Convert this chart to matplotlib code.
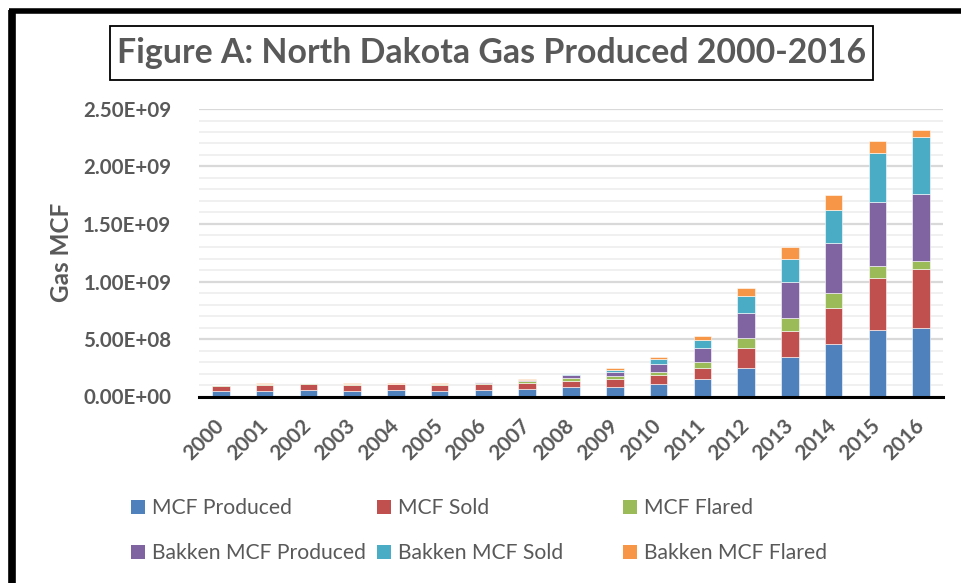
import numpy as np
import matplotlib
matplotlib.use("Agg")
from matplotlib import pyplot as plt
from matplotlib.patches import Rectangle, Patch
from matplotlib.ticker import MultipleLocator, FuncFormatter

W, H = 962, 583
FONT = "Lato"
GRAY = "#595959"

years = [str(y) for y in range(2000, 2017)]

# values in MCF
mcf_produced = [46e6, 49e6, 58e6, 49e6, 55e6, 49e6, 55e6, 64e6, 81e6, 84e6, 110e6, 148e6, 252e6, 344e6, 457e6, 579e6, 599e6]
mcf_sold = [49e6, 52e6, 55e6, 52e6, 52e6, 49e6, 52e6, 52e6, 52e6, 66e6, 78e6, 101e6, 167e6, 229e6, 315e6, 448e6, 512e6]
mcf_flared = [6e6, 9e6, 3e6, 9e6, 4e6, 12e6, 12e6, 17e6, 32e6, 24e6, 29e6, 55e6, 87e6, 110e6, 128e6, 110e6, 69e6]
bakken_produced = [2e6, 2e6, 1e6, 2e6, 1e6, 2e6, 3e6, 9e6, 20e6, 37e6, 64e6, 115e6, 220e6, 312e6, 431e6, 550e6, 579e6]
bakken_sold = [1e6, 1e6, 0.5e6, 1e6, 1e6, 1e6, 2e6, 4e6, 9e6, 20e6, 46e6, 70e6, 148e6, 205e6, 295e6, 433e6, 500e6]
bakken_flared = [0.3e6, 0.3e6, 0.2e6, 0.3e6, 0.3e6, 0.3e6, 0.5e6, 2e6, 6e6, 15e6, 20e6, 40e6, 72e6, 100e6, 124e6, 99e6, 58e6]

series_names = ["MCF Produced", "MCF Sold", "MCF Flared",
                "Bakken MCF Produced", "Bakken MCF Sold", "Bakken MCF Flared"]
series_colors = ["#4F81BD", "#C0504D", "#9BBB59", "#8064A2", "#4BACC6", "#F79646"]
series = [mcf_produced, mcf_sold, mcf_flared, bakken_produced, bakken_sold, bakken_flared]


def fx(px):
    return px / W


def fy(py):
    return 1 - py / H


fig = plt.figure(figsize=(W / 100, H / 100), dpi=100)
fig.patch.set_facecolor("white")

ax = fig.add_axes([fx(199), fy(396.5), fx(943) - fx(199), fy(109) - fy(396.5)])

x = np.arange(len(years))
bottom = np.zeros(len(years))
for name, vals, col in zip(series_names, series, series_colors):
    ax.bar(x, vals, 0.4, bottom=bottom, color=col, edgecolor="white",
           linewidth=0.4, label=name, zorder=3)
    bottom += np.array(vals)

ax.set_xlim(-0.5, len(years) - 0.5)
ax.set_ylim(0, 2.5e9)
ax.yaxis.set_major_locator(MultipleLocator(5e8))
ax.yaxis.set_minor_locator(MultipleLocator(1e8))
ax.yaxis.set_major_formatter(FuncFormatter(lambda v, p: "%.2E" % v))
ax.grid(axis="y", which="major", color="#D9D9D9", linewidth=1.6, zorder=0)
ax.grid(axis="y", which="minor", color="#F0F0F0", linewidth=1.4, zorder=0)
ax.set_axisbelow(True)

for s in ["top", "right", "left"]:
    ax.spines[s].set_visible(False)
ax.spines["bottom"].set_color("black")
ax.spines["bottom"].set_linewidth(2.2)
ax.spines["bottom"].set_zorder(4)

ax.tick_params(axis="both", which="both", length=0)
ax.tick_params(axis="y", pad=20)
ax.set_xticks(x)
ax.set_xticklabels(years, rotation=45, ha="right", va="center",
                   rotation_mode="anchor")
ax.tick_params(axis="x", pad=19)
for lab in ax.get_yticklabels():
    lab.set_fontfamily(FONT)
    lab.set_fontweight("bold")
    lab.set_fontsize(14.8)
    lab.set_color(GRAY)
for lab in ax.get_xticklabels():
    lab.set_fontfamily(FONT)
    lab.set_fontweight("bold")
    lab.set_fontsize(15)
    lab.set_color(GRAY)

fig.text(fx(62), fy(252), "Gas MCF", rotation=90, ha="center", va="center",
         fontfamily=FONT, fontweight="bold", fontsize=17.5, color=GRAY)

# title box
fig.patches.append(Rectangle((fx(110), fy(80)), fx(873) - fx(110), fy(26) - fy(80),
                             transform=fig.transFigure, fill=False,
                             edgecolor="black", linewidth=1.3))
fig.text(fx(491.5), fy(53), "Figure A: North Dakota Gas Produced 2000-2016",
         ha="center", va="center", fontfamily=FONT, fontweight="bold",
         fontsize=24.4, color=GRAY)

# outer frame of the screenshot
fig.add_artist(plt.Line2D([fx(12), fx(12)], [fy(10), 0], transform=fig.transFigure,
                          color="black", linewidth=5.5, solid_capstyle="butt"))
fig.add_artist(plt.Line2D([fx(9), 1], [fy(10.5), fy(10.5)], transform=fig.transFigure,
                          color="black", linewidth=4, solid_capstyle="butt"))

# legend: three columns of two rows
col_x = [131, 377, 623]
for c in range(3):
    handles = [Patch(facecolor=series_colors[c], edgecolor="none"),
               Patch(facecolor=series_colors[c + 3], edgecolor="none")]
    labels = [series_names[c], series_names[c + 3]]
    leg = fig.legend(handles, labels, loc="upper left",
                     bbox_to_anchor=(fx(col_x[c]), fy(498)),
                     bbox_transform=fig.transFigure, frameon=False,
                     prop={"family": FONT, "size": 15.2}, borderpad=0,
                     borderaxespad=0, handlelength=0.65, handleheight=0.65,
                     handletextpad=0.35, labelspacing=1.2)
    for t in leg.get_texts():
        t.set_color(GRAY)

plt.savefig("out.png", dpi=100)
